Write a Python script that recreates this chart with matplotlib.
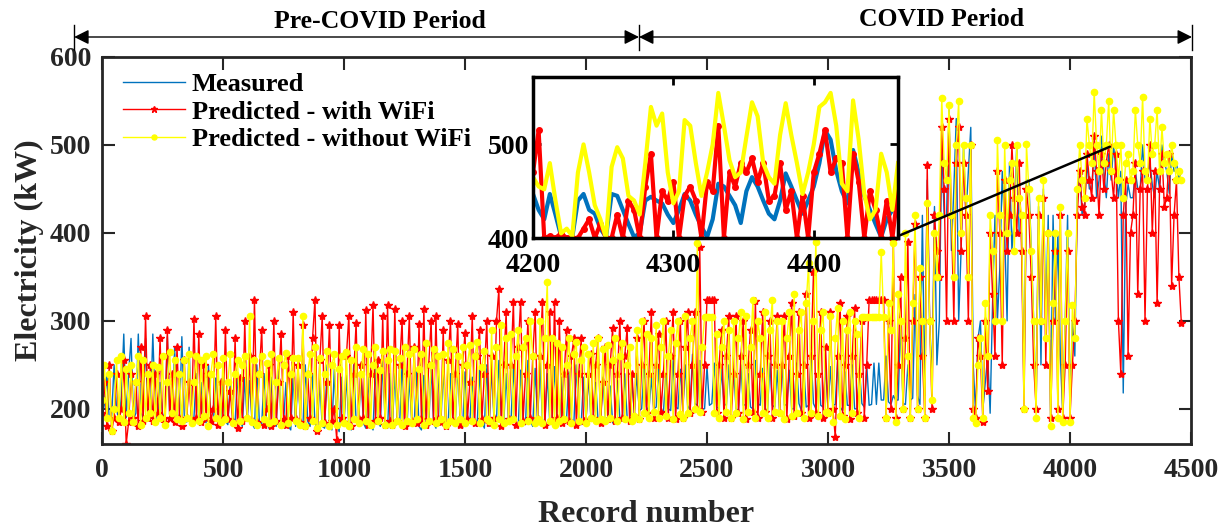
import numpy as np
import matplotlib
matplotlib.use('Agg')
import matplotlib.pyplot as plt
import matplotlib.transforms as mtransforms
from matplotlib.patches import ConnectionPatch

plt.rcParams['font.family'] = ['Liberation Serif', 'DejaVu Serif']
plt.rcParams['font.weight'] = 'bold'
plt.rcParams['axes.labelweight'] = 'bold'

# Data (read approx. from the figure, one value every 10 records)
step = 10

measured = [
    190, 205, 240, 188, 192, 250, 200, 185, 215, 285, 190, 240, 280, 188, 195, 285, 196, 190, 280, 186,
    192, 285, 200, 186, 230, 195, 188, 282, 190, 186, 270, 190, 186, 282, 192, 185, 270, 188, 190, 240,
    185, 230, 192, 184, 250, 190, 182, 235, 188, 180, 245, 186, 182, 230, 190, 184, 240, 186, 180, 235,
    186, 232, 184, 178, 250, 186, 182, 240, 186, 178, 236, 184, 180, 250, 188, 182, 230, 180, 176, 240,
    180, 245, 184, 178, 250, 186, 180, 240, 184, 176, 232, 180, 178, 250, 186, 176, 245, 182, 174, 236,
    182, 238, 180, 176, 250, 186, 180, 242, 184, 178, 236, 182, 176, 248, 186, 180, 255, 184, 178, 240,
    180, 240, 186, 184, 252, 188, 178, 236, 184, 182, 245, 180, 176, 238, 186, 180, 250, 184, 178, 246,
    182, 246, 186, 180, 240, 184, 185, 250, 188, 178, 242, 184, 184, 236, 182, 180, 244, 186, 178, 250,
    180, 248, 186, 186, 255, 190, 182, 240, 186, 185, 250, 184, 180, 244, 188, 182, 255, 186, 180, 246,
    186, 252, 188, 182, 240, 186, 188, 248, 190, 184, 236, 186, 190, 242, 188, 184, 250, 190, 182, 236,
    186, 238, 190, 190, 230, 186, 184, 236, 190, 188, 226, 184, 190, 232, 188, 186, 240, 190, 184, 230,
    195, 240, 198, 200, 250, 202, 198, 236, 200, 202, 245, 198, 196, 240, 200, 198, 255, 202, 200, 245,
    200, 250, 204, 198, 262, 206, 204, 255, 200, 200, 248, 204, 206, 252, 202, 200, 245, 206, 204, 250,
    202, 245, 200, 198, 250, 204, 205, 240, 202, 200, 255, 206, 204, 246, 200, 198, 252, 204, 202, 244,
    198, 250, 204, 205, 244, 200, 200, 252, 206, 198, 246, 202, 204, 260, 206, 200, 252, 204, 202, 248,
    200, 248, 204, 205, 255, 202, 198, 242, 204, 204, 250, 200, 200, 246, 206, 202, 250, 204, 205, 252,
    205, 252, 210, 210, 260, 208, 205, 215, 210, 210, 300, 206, 205, 250, 210, 212, 330, 215, 205, 420,
    215, 460, 300, 230, 430, 250, 300, 500, 420, 420, 540, 380, 450, 530, 300, 380, 500, 420, 470, 520,
    250, 195, 280, 300, 200, 230, 260, 195, 320, 420, 300, 360, 470, 400, 300, 480, 380, 420, 500, 400,
    400, 220, 460, 460, 380, 300, 200, 430, 250, 450, 300, 420, 190, 420, 300, 400, 260, 195, 300, 420,
    200, 300, 260, 440, 470, 420, 430, 480, 450, 450, 500, 440, 460, 510, 470, 440, 490, 460, 500, 470,
    440, 470, 218, 430, 455, 440, 440, 470, 450, 450, 500, 460, 460, 480, 455, 440, 470, 450, 500, 480,
    470, 445, 490, 470, 480, 460, 470,
]

pred_wifi = [
    195, 230, 180, 250, 175, 190, 240, 185, 200, 255, 160, 185, 240, 190, 230, 180, 270, 186, 306, 190,
    250, 186, 240, 195, 280, 188, 185, 290, 190, 240, 185, 270, 190, 180, 255, 190, 230, 186, 302, 190,
    285, 185, 250, 190, 240, 186, 200, 305, 182, 230, 190, 290, 188, 220, 185, 280, 178, 235, 186, 300,
    190, 260, 186, 324, 185, 240, 290, 182, 200, 250, 180, 300, 186, 230, 285, 188, 182, 260, 190, 310,
    188, 250, 185, 295, 180, 240, 190, 280, 324, 175, 255, 305, 184, 230, 295, 186, 200, 165, 295, 190,
    185, 260, 306, 180, 240, 298, 188, 250, 190, 312, 182, 240, 318, 186, 255, 190, 305, 182, 318, 186,
    182, 314, 186, 250, 300, 180, 240, 305, 186, 270, 184, 296, 188, 314, 182, 250, 300, 186, 305, 188,
    185, 290, 180, 255, 300, 186, 240, 296, 182, 250, 286, 188, 230, 305, 184, 260, 290, 188, 240, 300,
    184, 260, 190, 300, 336, 180, 250, 310, 188, 250, 322, 182, 270, 322, 186, 240, 300, 190, 260, 310,
    188, 260, 322, 182, 250, 310, 186, 322, 190, 300, 184, 240, 290, 186, 260, 280, 182, 240, 280, 186,
    186, 240, 262, 190, 250, 280, 184, 230, 270, 188, 250, 292, 186, 240, 300, 190, 260, 292, 186, 240,
    192, 280, 188, 250, 300, 195, 240, 310, 190, 250, 285, 196, 240, 300, 190, 260, 310, 188, 240, 300,
    190, 270, 310, 195, 250, 310, 200, 384, 196, 250, 324, 324, 324, 324, 195, 250, 290, 190, 260, 305,
    190, 240, 305, 195, 260, 300, 188, 250, 290, 196, 323, 190, 240, 310, 196, 260, 300, 190, 250, 305,
    195, 250, 305, 188, 260, 320, 192, 240, 310, 195, 250, 330, 190, 260, 355, 195, 240, 310, 190, 270,
    195, 310, 200, 168, 260, 320, 192, 250, 305, 188, 260, 315, 195, 240, 300, 190, 250, 324, 324, 324,
    324, 324, 324, 324, 190, 300, 200, 392, 190, 250, 350, 200, 280, 390, 190, 300, 410, 200, 350, 260,
    190, 477, 300, 200, 420, 380, 350, 520, 450, 300, 530, 420, 300, 480, 520, 380, 480, 420, 300, 500,
    200, 190, 280, 260, 185, 300, 220, 400, 330, 260, 470, 400, 250, 460, 380, 420, 500, 440, 400, 480,
    380, 200, 450, 420, 350, 250, 200, 420, 300, 440, 250, 400, 190, 300, 380, 200, 420, 190, 250, 380,
    190, 250, 300, 420, 470, 430, 420, 490, 460, 440, 510, 470, 420, 490, 450, 480, 500, 470, 440, 490,
    300, 240, 420, 460, 260, 400, 420, 480, 330, 450, 470, 300, 450, 500, 400, 470, 320, 450, 490, 430,
    440, 490, 340, 420, 460, 350, 298,
]

pred_nowifi = [
    210, 250, 190, 240, 175, 200, 255, 190, 260, 185, 245, 195, 250, 185, 230, 260, 182, 255, 190, 240,
    195, 250, 185, 248, 190, 260, 182, 230, 265, 195, 255, 188, 240, 186, 255, 190, 262, 184, 230, 260,
    186, 255, 192, 260, 180, 240, 262, 190, 250, 185, 258, 188, 230, 262, 184, 240, 255, 186, 250, 260,
    190, 305, 185, 255, 182, 240, 260, 188, 252, 184, 262, 186, 230, 258, 182, 250, 264, 184, 240, 258,
    186, 258, 182, 305, 180, 240, 262, 186, 270, 178, 258, 184, 240, 266, 180, 250, 262, 182, 245, 260,
    184, 265, 180, 255, 188, 270, 184, 240, 268, 186, 262, 182, 250, 270, 186, 244, 266, 182, 255, 268,
    182, 266, 186, 258, 182, 270, 186, 262, 184, 268, 188, 245, 262, 182, 275, 186, 250, 268, 184, 260,
    188, 262, 182, 275, 186, 268, 184, 260, 188, 270, 184, 250, 272, 186, 260, 276, 184, 248, 266, 188,
    186, 290, 182, 270, 188, 295, 184, 280, 186, 285, 188, 260, 290, 184, 270, 280, 186, 300, 260, 184,
    188, 300, 184, 280, 344, 186, 280, 182, 275, 186, 270, 188, 250, 280, 184, 262, 276, 186, 255, 270,
    184, 262, 190, 275, 186, 280, 188, 268, 186, 272, 190, 255, 280, 186, 260, 275, 188, 250, 270, 186,
    192, 290, 188, 300, 195, 285, 190, 280, 196, 295, 190, 270, 300, 192, 260, 290, 188, 275, 300, 194,
    190, 305, 195, 280, 300, 200, 388, 196, 270, 304, 304, 304, 304, 195, 285, 190, 270, 300, 196, 290,
    190, 300, 195, 280, 310, 188, 305, 196, 270, 324, 190, 300, 280, 195, 310, 190, 290, 324, 196, 300,
    195, 300, 188, 280, 310, 192, 330, 195, 290, 310, 190, 320, 366, 195, 300, 390, 192, 290, 310, 196,
    195, 305, 185, 280, 315, 192, 300, 188, 290, 310, 195, 300, 285, 190, 304, 304, 304, 304, 304, 304,
    304, 304, 378, 304, 190, 320, 290, 389, 185, 330, 300, 200, 400, 260, 190, 320, 420, 200, 360, 300,
    190, 434, 300, 210, 400, 350, 420, 553, 480, 460, 545, 420, 350, 500, 550, 400, 500, 440, 350, 500,
    190, 184, 250, 280, 190, 320, 260, 420, 380, 300, 506, 420, 300, 500, 400, 460, 480, 380, 500, 440,
    420, 200, 501, 450, 380, 300, 190, 440, 300, 460, 280, 400, 180, 320, 400, 190, 430, 185, 300, 400,
    185, 318, 280, 450, 500, 460, 440, 530, 500, 480, 560, 500, 470, 540, 480, 500, 550, 470, 540, 500,
    460, 500, 440, 480, 490, 460, 470, 540, 500, 480, 555, 470, 460, 530, 490, 500, 540, 470, 520, 480,
    490, 470, 500, 480, 460, 470, 460,
]

# Inset (zoomed) data, every 4 records from 4200
inset_start = 4200
inset_step = 4
inset_measured = [
    447, 430, 420, 447, 425, 402, 400, 401, 440, 447,
    430, 426, 410, 401, 447, 445, 430, 415, 401, 405,
    440, 444, 440, 437, 425, 416, 430, 447, 440, 425,
    412, 401, 420, 458, 455, 445, 435, 416, 450, 465,
    455, 440, 426, 420, 440, 469, 455, 440, 426, 440,
    455, 480, 515, 505, 472, 450, 437, 494, 470, 445,
    430, 415, 401, 420, 430, 440,
]
inset_wifi = [
    470, 515, 400, 402, 400, 405, 400, 400, 400, 410,
    420, 400, 415, 400, 400, 425, 400, 440, 430, 400,
    455, 490, 400, 450, 440, 460, 400, 445, 455, 440,
    400, 460, 450, 520, 400, 470, 455, 480, 470, 485,
    460, 480, 440, 445, 480, 430, 450, 400, 445, 400,
    470, 490, 515, 470, 485, 480, 400, 490, 460, 400,
    450, 430, 400, 440, 400, 450,
]
inset_nowifi = [
    465, 455, 452, 480, 440, 405, 410, 402, 470, 500,
    470, 435, 420, 400, 476, 497, 485, 445, 440, 425,
    480, 540, 520, 533, 470, 437, 450, 526, 520, 480,
    445, 470, 500, 555, 520, 483, 465, 470, 508, 545,
    530, 480, 465, 458, 510, 544, 510, 480, 447, 470,
    500, 540, 545, 555, 520, 458, 450, 547, 505, 447,
    420, 430, 490, 470, 430, 480,
]

blue = '#0072BD'
red = '#FF0000'
yellow = '#FFFF00'
axcol = '#262626'


def rec(vals, start=0, st=step):
    return start + np.arange(len(vals)) * st


fig = plt.figure(figsize=(12.29, 5.29), dpi=100)
ax = fig.add_axes([102 / 1229, 1 - 444 / 529, 1089 / 1229, 387 / 529])

ax.plot(rec(measured), measured, color=blue, lw=1.0, label='Measured')
ax.plot(rec(pred_wifi), pred_wifi, color=red, lw=1.0, marker='*', ms=6,
        label='Predicted - with WiFi')
ax.plot(rec(pred_nowifi), pred_nowifi, color=yellow, lw=1.0, marker='o', ms=4.5,
        label='Predicted - without WiFi')

ax.set_xlim(0, 4500)
ax.set_ylim(160, 600)
ax.set_xticks(np.arange(0, 4501, 500))
ax.set_yticks([200, 300, 400, 500, 600])
ax.tick_params(direction='in', length=9, width=1.5, labelsize=20, colors=axcol,
               top=True, right=True)
ax.tick_params(axis='x', pad=10)
ax.tick_params(axis='y', pad=8)
for s in ax.spines.values():
    s.set_linewidth(2)
    s.set_color(axcol)
ax.set_xlabel('Record number', fontsize=23, color=axcol, labelpad=12)
ax.set_ylabel('Electricity (kW)', fontsize=23, color=axcol, labelpad=4)

leg = ax.legend(loc='upper left', frameon=False, fontsize=19, handlelength=2.35,
                borderaxespad=0.2, labelspacing=0.15, handletextpad=0.25,
                bbox_to_anchor=(0.005, 1.0), markerscale=0.8)
for t in leg.get_texts():
    t.set_color('black')

# Period arrows
trans = mtransforms.blended_transform_factory(ax.transData, fig.transFigure)
ya = 1 - 37 / 529
for x0, x1 in [(-115, 2219), (2219, 4504)]:
    ax.annotate('', xy=(x0, ya), xytext=(x1, ya), xycoords=trans, textcoords=trans,
                arrowprops=dict(arrowstyle='<|-|>', color='black', lw=1, mutation_scale=22,
                                shrinkA=0, shrinkB=0), annotation_clip=False)
for xb in [-115, 2219, 4504]:
    ax.plot([xb, xb], [1 - 25 / 529, 1 - 50 / 529], color='black', lw=1,
            transform=trans, clip_on=False)
ax.text(1149, 1 - 22 / 529, 'Pre-COVID Period', transform=trans, ha='center', va='center',
        fontsize=18.5, color='black')
ax.text(3471, 1 - 19 / 529, 'COVID Period', transform=trans, ha='center', va='center',
        fontsize=18.5, color='black')

# Inset
axin = fig.add_axes([533 / 1229, 1 - 238 / 529, 365 / 1229, 161 / 529])
axin.plot(rec(inset_measured, inset_start, inset_step), inset_measured, color=blue, lw=3)
axin.plot(rec(inset_wifi, inset_start, inset_step), inset_wifi, color=red, lw=3,
          marker='o', ms=4)
axin.plot(rec(inset_nowifi, inset_start, inset_step), inset_nowifi, color=yellow, lw=3)
axin.set_xlim(4200, 4460)
axin.set_ylim(400, 572)
axin.set_xticks([4200, 4300, 4400])
axin.set_yticks([400, 500])
axin.tick_params(direction='in', length=6, width=2, labelsize=20, colors='black',
                 top=True, right=True)
axin.tick_params(axis='x', pad=11)
axin.tick_params(axis='y', pad=3)
for s in axin.spines.values():
    s.set_linewidth(2.5)
    s.set_color('black')

con = ConnectionPatch(xyA=(4460, 402), coordsA=axin.transData,
                      xyB=(4165, 498), coordsB=ax.transData, color='black', lw=1.8)
fig.add_artist(con)

fig.savefig('out.png', dpi=100)
